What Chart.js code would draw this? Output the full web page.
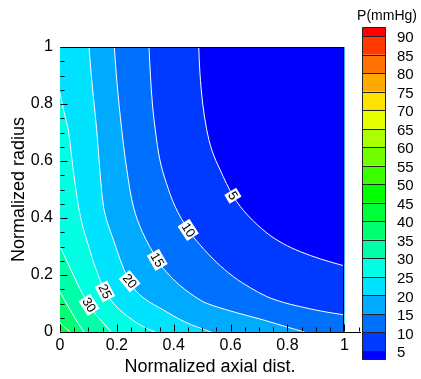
<!DOCTYPE html>
<html>
<head>
<meta charset="utf-8">
<script src="https://cdn.jsdelivr.net/npm/chart.js@4/dist/chart.umd.min.js"></script>
<style>html,body{margin:0;padding:0;background:#fff}canvas{display:block}</style>
</head>
<body>
<canvas id="c" width="421" height="379"></canvas>
<script>
// Contour levels of pressure (mmHg) shown on the colour bar
const levels = [5,10,15,20,25,30,35,40,45,50,55,60,65,70,75,80,85,90];

// Iso-pressure lines: [normalized axial dist., normalized radius]
const iso5  = [[0.488,1.0],[0.492,0.91],[0.502,0.8],[0.516,0.71],[0.535,0.635],[0.563,0.569],[0.61,0.475],[0.66,0.41],[0.728,0.347],[0.785,0.31],[0.845,0.282],[0.92,0.255],[1.0,0.232]];
const iso10 = [[0.313,1.0],[0.318,0.9],[0.325,0.8],[0.335,0.71],[0.352,0.6],[0.375,0.52],[0.405,0.44],[0.451,0.358],[0.493,0.305],[0.55,0.245],[0.61,0.194],[0.67,0.155],[0.728,0.124],[0.785,0.104],[0.845,0.089],[0.92,0.073],[1.0,0.06]];
const iso15 = [[0.191,1.0],[0.2,0.88],[0.217,0.71],[0.235,0.57],[0.258,0.44],[0.29,0.35],[0.342,0.253],[0.364,0.222],[0.42,0.165],[0.493,0.112],[0.54,0.092],[0.62,0.068],[0.716,0.042],[0.79,0.02],[0.86,0.0]];
const iso20 = [[0.102,1.0],[0.112,0.88],[0.129,0.71],[0.14,0.57],[0.153,0.44],[0.168,0.38],[0.188,0.323],[0.213,0.25],[0.238,0.19],[0.262,0.15],[0.3,0.115],[0.364,0.077],[0.44,0.035],[0.53,0.0]];
const iso25 = [[0,0.84],[0.012,0.78],[0.029,0.71],[0.045,0.58],[0.065,0.44],[0.08,0.37],[0.094,0.323],[0.118,0.245],[0.138,0.19],[0.158,0.142],[0.18,0.11],[0.21,0.078],[0.246,0.049],[0.29,0.02],[0.335,0.0]];
const iso30 = [[0,0.3],[0.02,0.258],[0.04,0.215],[0.06,0.172],[0.08,0.132],[0.102,0.095],[0.125,0.062],[0.15,0.034],[0.18,0.0]];
const iso35 = [[0,0.14],[0.02,0.105],[0.04,0.07],[0.06,0.036],[0.085,0.0]];
const iso40 = [[0,0.032],[0.018,0.015],[0.036,0.0]];
const isoLines = {5: iso5, 10: iso10, 15: iso15, 20: iso20, 25: iso25, 30: iso30, 35: iso35, 40: iso40};

// Bottom edge of the computational domain (the peak band lies under everything)
const domainBottom = [[0,0],[1,0]];
const peakBand = 40;

// In-line labels: level and position along its line
const labelLevels = [5,10,15,20,25,30];
const labelX = [0.608,0.451,0.342,0.245,0.158,0.102];
const labelR = [0.478,0.358,0.253,0.178,0.142,0.095];

// Axis ticks
const xMajor = [0,0.2,0.4,0.6,0.8,1];
const yMajor = [0,0.2,0.4,0.6,0.8,1];
const xMinor = [0.05,0.1,0.15,0.25,0.3,0.35,0.45,0.5,0.55,0.65,0.7,0.75,0.85,0.9,0.95,1.05];
const yMinor = [0.05,0.1,0.15,0.25,0.3,0.35,0.45,0.5,0.55,0.65,0.7,0.75,0.85,0.9,0.95];

// Banded rainbow: blue -> cyan -> green -> yellow -> red over 19 bands
function bandColor(i) {
  const stops = [[0,0,255],[0,255,255],[0,255,0],[255,255,0],[255,0,0]];
  const s = (i / 18) * 4;
  const k = Math.min(3, Math.floor(s));
  const f = s - k;
  const a = stops[k], b = stops[k + 1];
  const c = a.map((v, j) => Math.round(v + (b[j] - v) * f));
  return `rgb(${c[0]},${c[1]},${c[2]})`;
}

const FONT = 'Liberation Sans, Arial, sans-serif';
const TENSION = 0.35;
const toPts = arr => arr.map(([x, y]) => ({x, y}));
const tickText = v => String(Number(v.toFixed(2)));

const datasets = [{
  label: 'peak',
  data: toPts(domainBottom),
  fill: 'end',
  backgroundColor: bandColor(peakBand / 5),
  borderWidth: 0,
  pointRadius: 0,
  order: 1000
}];

const lineLevels = Object.keys(isoLines).map(Number).sort((a, b) => b - a);

// flooded bands: region below each level, closed along the axis where needed
lineLevels.forEach(L => {
  const pts = toPts(isoLines[L]);
  const last = pts[pts.length - 1];
  if (last.y === 0 && last.x < 1) pts.push({x: 1, y: 0});
  datasets.push({
    label: 'band ' + L,
    data: pts,
    fill: 'end',
    backgroundColor: bandColor(L / 5 - 1),
    borderWidth: 0,
    borderColor: 'rgba(0,0,0,0)',
    pointRadius: 0,
    tension: TENSION,
    order: 100 + L
  });
});

// white iso-lines on top
lineLevels.forEach(L => {
  datasets.push({
    label: String(L),
    data: toPts(isoLines[L]),
    fill: false,
    borderColor: '#ffffff',
    borderWidth: 1,
    pointRadius: 0,
    tension: TENSION,
    order: 1
  });
});

const overlay = {
  id: 'overlay',
  afterDatasetsDraw(chart) {
    const {ctx, scales: {x, y}} = chart;
    const px = v => x.getPixelForValue(v);
    const py = v => y.getPixelForValue(v);

    // level labels on the iso-lines
    ctx.save();
    ctx.font = `13px ${FONT}`;
    ctx.textAlign = 'center';
    ctx.textBaseline = 'middle';
    labelLevels.forEach((L, i) => {
      const pts = isoLines[L];
      let k = pts.findIndex(p => p[0] >= labelX[i]);
      if (k < 0) k = pts.length - 1;
      const a = pts[Math.max(0, k - 1)], b = pts[Math.min(pts.length - 1, k + 1)];
      const ang = Math.atan2(py(b[1]) - py(a[1]), px(b[0]) - px(a[0]));
      const cx = px(labelX[i]), cy = py(labelR[i]);
      const t = String(L);
      const w = ctx.measureText(t).width + 3;
      ctx.save();
      ctx.translate(cx, cy);
      ctx.rotate(ang);
      ctx.fillStyle = '#ffffff';
      ctx.fillRect(-w / 2, -7, w, 14);
      ctx.fillStyle = '#000000';
      ctx.fillText(t, 0, 0.5);
      ctx.restore();
    });
    ctx.restore();

    // frame of the data zone and inward tick marks
    ctx.save();
    ctx.strokeStyle = '#000';
    ctx.lineWidth = 1;
    const xl = Math.round(px(0)) + 0.5, xr = Math.round(px(1)) - 0.5;
    const yt = Math.round(py(1)) + 0.5, yb = Math.round(py(0)) - 0.5;
    ctx.beginPath();
    ctx.moveTo(xl, yt); ctx.lineTo(xr, yt); ctx.lineTo(xr, yb);
    xMajor.forEach(v => { const p = Math.round(px(v)) + 0.5; ctx.moveTo(p, yb); ctx.lineTo(p, yb - 7); });
    xMinor.forEach(v => { const p = Math.round(px(v)) + 0.5; ctx.moveTo(p, yb); ctx.lineTo(p, yb - 4); });
    yMajor.forEach(v => { const p = Math.round(py(v)) + 0.5; ctx.moveTo(xl, p); ctx.lineTo(xl + 7, p); });
    yMinor.forEach(v => { const p = Math.round(py(v)) + 0.5; ctx.moveTo(xl, p); ctx.lineTo(xl + 4, p); });
    ctx.stroke();
    ctx.restore();
  },
  afterDraw(chart) {
    // colour bar legend
    const ctx = chart.ctx;
    const bx = 362, bw = 24;
    const y5 = 351, step = 18.53;
    const yOf = v => y5 - (v - 5) / 5 * step;
    const edges = [y5 + 8.5].concat(levels.map(yOf), [yOf(90) - 8.5]);
    ctx.save();
    for (let i = 0; i < edges.length - 1; i++) {
      ctx.fillStyle = bandColor(i);
      ctx.fillRect(bx, edges[i + 1], bw, edges[i] - edges[i + 1]);
    }
    ctx.strokeStyle = '#222';
    ctx.lineWidth = 1;
    ctx.beginPath();
    levels.forEach(v => { const p = Math.round(yOf(v)) + 0.5; ctx.moveTo(bx, p); ctx.lineTo(bx + bw, p); });
    ctx.rect(bx + 0.5, Math.round(edges[edges.length - 1]) + 0.5, bw - 1, Math.round(edges[0]) - Math.round(edges[edges.length - 1]) - 1);
    ctx.stroke();
    ctx.fillStyle = '#000';
    ctx.font = `15px ${FONT}`;
    ctx.textAlign = 'left';
    ctx.textBaseline = 'middle';
    levels.forEach(v => ctx.fillText(String(v), 397, yOf(v) + 2));
    ctx.font = `14px ${FONT}`;
    ctx.textAlign = 'center';
    ctx.fillText('P(mmHg)', 387, 16);
    ctx.restore();
  }
};

new Chart(document.getElementById('c'), {
  type: 'line',
  data: {datasets},
  options: {
    responsive: false,
    devicePixelRatio: 1,
    animation: false,
    layout: {padding: {left: 0, right: 61, top: 47, bottom: 0}},
    plugins: {legend: {display: false}, tooltip: {enabled: false}},
    scales: {
      x: {
        type: 'linear', min: 0, max: 1.055,
        afterFit: s => { s.height = 47; },
        grid: {drawOnChartArea: false, drawTicks: false},
        border: {display: true, color: '#000', width: 1},
        ticks: {stepSize: 0.2, includeBounds: false, autoSkip: false, maxRotation: 0, padding: 4,
                color: '#000', font: {family: FONT, size: 16}, callback: tickText},
        title: {display: true, text: 'Normalized axial dist.', color: '#000',
                font: {family: FONT, size: 18}, padding: {top: 0, bottom: 1}}
      },
      y: {
        type: 'linear', min: 0, max: 1,
        afterFit: s => { s.width = 60; },
        grid: {drawOnChartArea: false, drawTicks: false},
        border: {display: true, color: '#000', width: 1},
        ticks: {stepSize: 0.2, autoSkip: false, padding: 7, color: '#000',
                font: {family: FONT, size: 16}, callback: tickText},
        title: {display: true, text: 'Normalized radius', color: '#000',
                font: {family: FONT, size: 18}, padding: {top: 8, bottom: 0}}
      }
    }
  },
  plugins: [overlay]
});
</script>
</body>
</html>
